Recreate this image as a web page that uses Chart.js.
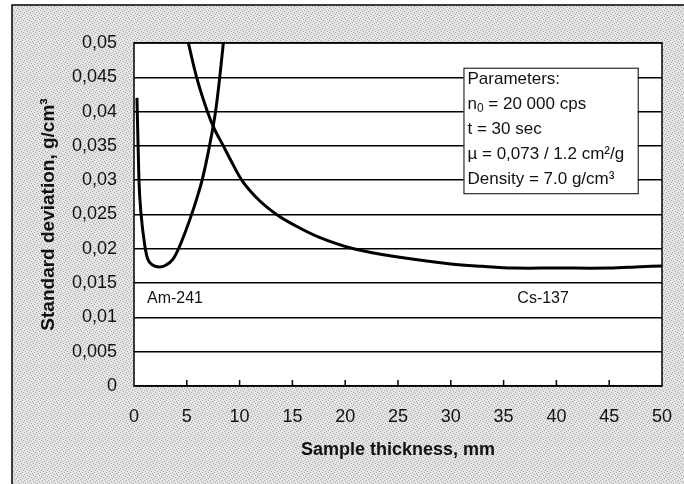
<!DOCTYPE html>
<html>
<head>
<meta charset="utf-8">
<script src="https://cdn.jsdelivr.net/npm/chart.js@4.4.1/dist/chart.umd.min.js"></script>
<style>
html,body{margin:0;padding:0;background:#fff;}
#wrap{width:684px;height:484px;}
</style>
</head>
<body>
<div id="wrap"><canvas id="c" width="684" height="484"></canvas></div>
<script>
// Am-241 curve (thickness mm, std dev g/cm3)
const amX=[0.28,0.47,0.66,1.04,1.3,1.8,2.4,3.0,3.7,4.3,5.5,6.0,6.45,7.15,7.72,8.12,8.46];
const amY=[0.042,0.030,0.0252,0.0203,0.0185,0.0176,0.01735,0.0176,0.0185,0.0203,0.0252,0.0276,0.030,0.035,0.040,0.045,0.050];
// Cs-137 curve
const csX=[5.15,5.93,6.95,7.6,8.46,9.2,10.3,11.9,13.5,15.0,17.5,20.8,25.0,30.0,33.0,36.0,40.0,45.0,48.0,50.0];
const csY=[0.050,0.045,0.040,0.0375,0.035,0.0328,0.0298,0.0270,0.025,0.0236,0.0217,0.0200,0.0188,0.0178,0.01745,0.0172,0.0172,0.0172,0.0174,0.0175];

const xTickLabels=['0','5','10','15','20','25','30','35','40','45','50'];
const yTickLabels=['0','0,005','0,01','0,015','0,02','0,025','0,03','0,035','0,04','0,045','0,05'];

const paramLines=['Parameters:','n|0| = 20 000 cps','t = 30 sec','µ = 0,073 / 1.2 cm²/g','Density = 7.0 g/cm³'];

const toPts=(xs,ys)=>xs.map((x,i)=>({x:x,y:ys[i]}));

function stipple(ctx){
  const pc=document.createElement('canvas');pc.width=6;pc.height=6;
  const p=pc.getContext('2d');
  p.fillStyle='#e4e4e4';p.fillRect(0,0,6,6);
  p.fillStyle='#a8a8a8';
  [[0,0],[3,1],[1,3],[4,4],[5,2],[2,5]].forEach(d=>p.fillRect(d[0],d[1],1,1));
  return ctx.createPattern(pc,'repeat');
}

const frame={
  id:'frame',
  beforeDraw(chart){
    const {ctx,chartArea:a}=chart;
    ctx.save();
    ctx.fillStyle='#fff';ctx.fillRect(0,0,684,484);
    ctx.fillStyle=stipple(ctx);ctx.fillRect(12,5,672,479);
    ctx.strokeStyle='#000';ctx.lineWidth=1.5;
    ctx.beginPath();ctx.moveTo(12,484);ctx.lineTo(12,5);ctx.lineTo(684,5);ctx.stroke();
    ctx.fillStyle='#fff';ctx.fillRect(a.left,a.top,a.right-a.left,a.bottom-a.top);
    ctx.restore();
  },
  afterDatasetsDraw(chart){
    const {ctx,chartArea:a,scales:{x,y}}=chart;
    ctx.save();
    ctx.strokeStyle='#000';ctx.lineWidth=1.5;
    ctx.strokeRect(a.left,a.top,a.right-a.left,a.bottom-a.top);
    // inward tick marks on the x axis
    ctx.beginPath();
    for(let i=1;i<xTickLabels.length-1;i++){
      const px=x.getPixelForValue(+xTickLabels[i]);
      ctx.moveTo(px,a.bottom);ctx.lineTo(px,a.bottom-6);
    }
    ctx.stroke();
    // isotope labels
    ctx.fillStyle='#111';ctx.font='16px "Liberation Sans", Arial, sans-serif';
    ctx.textBaseline='middle';ctx.textAlign='left';
    ctx.fillText('Am-241',x.getPixelForValue(1.23),y.getPixelForValue(0.0127));
    ctx.fillText('Cs-137',x.getPixelForValue(36.3),y.getPixelForValue(0.0127));
    // parameter box
    const bl=x.getPixelForValue(31.2),br=x.getPixelForValue(47.7);
    const bt=y.getPixelForValue(0.0464),bb=y.getPixelForValue(0.0281);
    ctx.fillStyle='#fff';ctx.fillRect(bl,bt,br-bl,bb-bt);
    ctx.lineWidth=1;ctx.strokeRect(bl+0.5,bt+0.5,br-bl,bb-bt);
    ctx.fillStyle='#111';
    const f='17px "Liberation Sans", Arial, sans-serif';
    paramLines.forEach((ln,i)=>{
      const ty=bt+12+i*25;
      let tx=bl+4;
      ln.split('|').forEach((part,j)=>{
        if(j===1){
          ctx.font='12px "Liberation Sans", Arial, sans-serif';
          ctx.fillText(part,tx,ty+4);
          tx+=ctx.measureText(part).width;
        }else{
          ctx.font=f;
          ctx.fillText(part,tx,ty);
          tx+=ctx.measureText(part).width;
        }
      });
    });
    ctx.restore();
  }
};

new Chart(document.getElementById('c'),{
  type:'scatter',
  data:{datasets:[
    {label:'Am-241',data:toPts(amX,amY),showLine:true,borderColor:'#000',borderWidth:3,pointRadius:0,cubicInterpolationMode:'monotone'},
    {label:'Cs-137',data:toPts(csX,csY),showLine:true,borderColor:'#000',borderWidth:3,pointRadius:0,tension:0.35}
  ]},
  options:{
    responsive:false,animation:false,
    layout:{padding:{top:43,right:22,left:0,bottom:0}},
    plugins:{legend:{display:false},tooltip:{enabled:false}},
    scales:{
      x:{
        type:'linear',min:0,max:50,
        afterFit(s){s.height=98;s.paddingLeft=0;s.paddingRight=0;},
        grid:{display:false,drawTicks:false},
        border:{display:false},
        ticks:{stepSize:5,padding:20,color:'#111',font:{family:'"Liberation Sans", Arial, sans-serif',size:18},
          callback:(v,i)=>xTickLabels[i]},
        title:{display:true,text:'Sample thickness, mm',color:'#111',
          font:{family:'"Liberation Sans", Arial, sans-serif',size:18,weight:'bold'},padding:{top:0,bottom:23}}
      },
      y:{
        type:'linear',min:0,max:0.05,
        afterFit(s){s.width=134;s.paddingTop=0;s.paddingBottom=0;},
        grid:{color:'#000',lineWidth:1.5,drawTicks:false},
        border:{display:false},
        ticks:{stepSize:0.005,padding:17,color:'#111',font:{family:'"Liberation Sans", Arial, sans-serif',size:18},
          callback:(v,i)=>yTickLabels[i]},
        title:{display:true,text:'Standard deviation, g/cm³',color:'#111',
          font:{family:'"Liberation Sans", Arial, sans-serif',size:19,weight:'bold'},padding:{top:37,bottom:0}}
      }
    }
  },
  plugins:[frame]
});
</script>
</body>
</html>
